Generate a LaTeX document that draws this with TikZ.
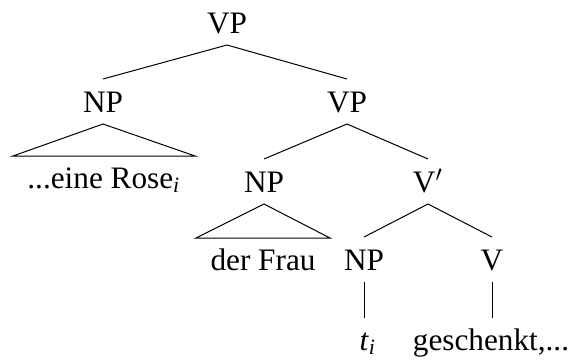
\documentclass[tikz,border=0pt]{standalone}
\usepackage{fontspec}
\setmainfont{Liberation Serif}

\tikzset{
	cat/.style={inner xsep=0pt, inner ysep=4.6pt, text height=8.4pt, text depth=-0.2pt, anchor=base},
	leaf/.style={inner xsep=5.6pt, inner ysep=4.4pt, text height=8.2pt, text depth=0pt, anchor=base}
}
\newcommand{\idx}[1]{\textsubscript{\textit{#1}}}

\begin{document}
\begin{tikzpicture}[x=0.4pt, y=-0.4pt, font=\fontsize{12.5}{15}\selectfont]
	\useasboundingbox (0,0) rectangle (573,361);

	% categories
	\node [cat] (vp) at (227,33) {VP};
	\node [cat] (np1) at (103,112) {NP};
	\node [cat] (vp2) at (347,112) {VP};
	\node [cat] (np2) at (264,192) {NP};
	\node [cat] (vbar) at (428,192) {V$'$};
	\node [cat] (np3) at (364,270) {NP};
	\node [cat] (v) at (492,270) {V};

	% words
	\node [leaf] (rose) at (104,188) {...eine Rose\idx{i}};
	\node [leaf] (frau) at (263,270) {der Frau};
	\node [leaf] (trace) at (368,350) {\textit{t}\idx{i}};
	\node [leaf] (verb) at (491,350) {geschenkt,...};

	\draw (vp.south) -- (np1.north);
	\draw (vp.south) -- (vp2.north);
	\draw (vp2.south) -- (np2.north);
	\draw (vp2.south) -- (vbar.north);
	\draw (vbar.south) -- (np3.north);
	\draw (vbar.south) -- (v.north);

	% triangles over the phrases
	\draw (np1.south) -- (rose.north west) -- (rose.north east) -- cycle;
	\draw (np2.south) -- (frau.north west) -- (frau.north east) -- cycle;

	\draw (np3.south) -- (trace.north -| np3.south);
	\draw (v.south) -- (verb.north -| v.south);
\end{tikzpicture}
\end{document}
